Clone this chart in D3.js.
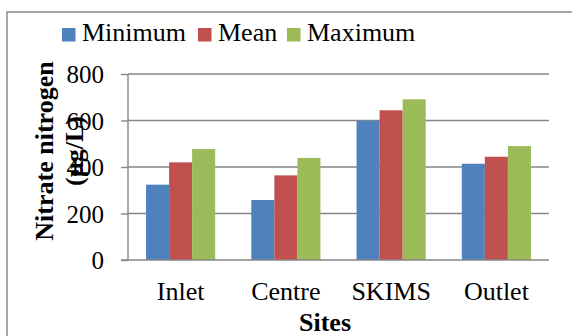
<!DOCTYPE html>
<html><head><meta charset="utf-8">
<script src="https://cdn.jsdelivr.net/npm/d3@7/dist/d3.min.js"></script>
<style>body{margin:0;background:#fff}svg{display:block}</style>
</head><body>
<script>
const categories = ["Inlet", "Centre", "SKIMS", "Outlet"];
const seriesNames = ["Minimum", "Mean", "Maximum"];
const minimum = [324, 258, 599, 414];
const mean = [420, 364, 644, 444];
const maximum = [477, 439, 691, 490];
const yTicks = [0, 200, 400, 600, 800];
const colors = ["#4F81BD", "#C0504D", "#9BBB59"];
const seriesValues = [minimum, mean, maximum];
const FONT = "'Liberation Serif'";

const W = 572, H = 336;
const svg = d3.select("body").append("svg").attr("width", W).attr("height", H);

// outer border
svg.append("rect").attr("x", 7).attr("y", 12).attr("width", 580).attr("height", 340)
  .attr("fill", "none").attr("stroke", "#8a8a8a").attr("stroke-width", 1.5);

const pL = 128, pR = 549, pT = 74, pB = 260;
const x = d3.scaleBand().domain(categories).range([pL, pR]).paddingInner(0.343).paddingOuter(0.1715);
const xs = d3.scaleBand().domain(seriesNames).range([0, x.bandwidth()]);
const y = d3.scaleLinear().domain([0, 800]).range([pB, pT]);

// gridlines
svg.append("g").selectAll("line").data(yTicks.filter(d => d > 0)).join("line")
  .attr("x1", pL).attr("x2", pR).attr("y1", d => y(d)).attr("y2", d => y(d))
  .attr("stroke", "#868686").attr("stroke-width", 1.4);

// bars
const rows = categories.map((c, i) => seriesNames.map((s, j) => ({c, s, v: seriesValues[j][i], j})));
svg.append("g").selectAll("g").data(rows).join("g")
  .attr("transform", d => `translate(${x(d[0].c)},0)`)
  .selectAll("rect").data(d => d).join("rect")
  .attr("x", d => xs(d.s)).attr("width", xs.bandwidth())
  .attr("y", d => y(d.v)).attr("height", d => y(0) - y(d.v))
  .attr("fill", d => colors[d.j]);

// y axis
const ya = svg.append("g").attr("transform", `translate(${pL},0)`)
  .call(d3.axisLeft(y).tickValues(yTicks).tickSize(7).tickPadding(17));
ya.select(".domain").attr("stroke", "#868686").attr("stroke-width", 1.4).attr("d", `M0,${pT}V${pB}`);
ya.selectAll(".tick line").attr("stroke", "#868686").attr("stroke-width", 1.4);
ya.selectAll(".tick text").style("font-family", FONT).style("font-size", "25px").attr("fill", "#000").attr("dy", "0.35em");

// x axis
const xa = svg.append("g").attr("transform", `translate(0,${pB})`)
  .call(d3.axisBottom(x).tickSize(0).tickPadding(22));
xa.select(".domain").attr("stroke", "#868686").attr("stroke-width", 1.4).attr("d", `M${pL - 7},0H${pR}`);
xa.selectAll(".tick text").style("font-family", FONT).style("font-size", "26px").attr("fill", "#000").attr("dy", "0.71em");

// axis titles
svg.append("text").attr("x", 325).attr("y", 331).attr("text-anchor", "middle")
  .style("font-family", FONT).style("font-size", "26px").style("font-weight", "bold").text("Sites");
const yt = svg.append("text").attr("transform", "translate(53,151) rotate(-90)")
  .attr("text-anchor", "middle").style("font-family", FONT).style("font-size", "26px").style("font-weight", "bold");
yt.append("tspan").attr("x", 0).attr("y", 0).text("Nitrate nitrogen");
yt.append("tspan").attr("x", 0).attr("y", 30).text("(µg/L)");

// legend
const legX = [62, 198, 287];
const lg = svg.append("g").selectAll("g").data(seriesNames).join("g")
  .attr("transform", (d, i) => `translate(${legX[i]},28)`);
lg.append("rect").attr("width", 13.5).attr("height", 13.5).attr("fill", (d, i) => colors[i]);
lg.append("text").attr("x", 20).attr("y", 13.3).style("font-family", FONT).style("font-size", "26px").text(d => d);
</script>
</body></html>
